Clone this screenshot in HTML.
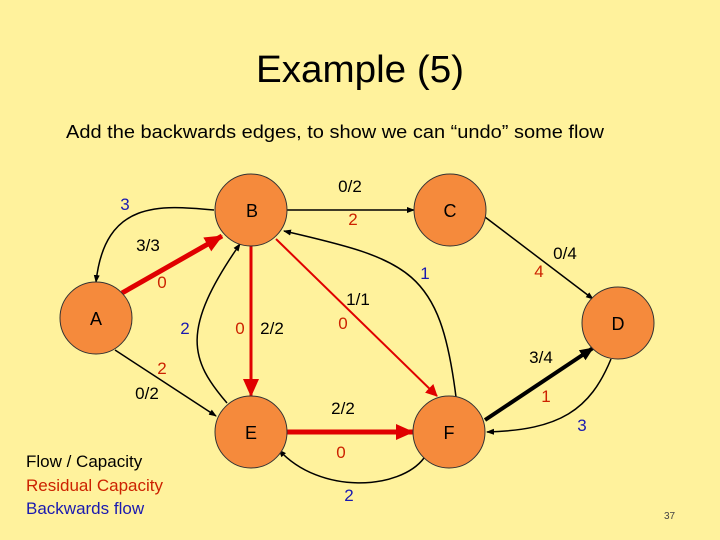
<!DOCTYPE html>
<html><head><style>
html,body{margin:0;padding:0;background:#FFF29C;}
svg{display:block;}
text{font-family:"Liberation Sans",Arial,sans-serif;}
</style></head><body>
<svg width="720" height="540" viewBox="0 0 720 540" xmlns="http://www.w3.org/2000/svg">
<defs>
<marker id="ak" markerWidth="8" markerHeight="8" refX="7" refY="4" orient="auto" markerUnits="userSpaceOnUse"><path d="M0,1 L8,4 L0,7 z" fill="#000"/></marker>
<marker id="ar" markerWidth="12" markerHeight="12" refX="11" refY="6" orient="auto" markerUnits="userSpaceOnUse"><path d="M0,0 L12,6 L0,12 z" fill="#E00000"/></marker>
<marker id="ar2" markerWidth="18" markerHeight="18" refX="17" refY="9" orient="auto" markerUnits="userSpaceOnUse"><path d="M0,1 L18,9 L0,17 z" fill="#E00000"/></marker>
<marker id="ak2" markerWidth="14" markerHeight="14" refX="13" refY="7" orient="auto" markerUnits="userSpaceOnUse"><path d="M0,1 L14,7 L0,13 z" fill="#000"/></marker>
</defs>
<rect width="720" height="540" fill="#FFF29C"/>
<text x="360" y="82" font-size="38" text-anchor="middle" textLength="208" lengthAdjust="spacingAndGlyphs">Example (5)</text>
<text x="66" y="138" font-size="18" textLength="538" lengthAdjust="spacingAndGlyphs">Add the backwards edges, to show we can “undo” some flow</text>

<!-- edges -->
<line x1="286" y1="210" x2="414" y2="210" stroke="#000" stroke-width="1.5" marker-end="url(#ak)"/>
<path d="M214,210 C160,205 105,200 96,282" fill="none" stroke="#000" stroke-width="1.5" marker-end="url(#ak)"/>
<line x1="122" y1="293" x2="222" y2="236" stroke="#E00000" stroke-width="5" marker-end="url(#ar2)"/>
<line x1="251" y1="246" x2="251" y2="396" stroke="#E00000" stroke-width="3" marker-end="url(#ar2)"/>
<path d="M227,403 C190,360 180,330 240,244" fill="none" stroke="#000" stroke-width="1.5" marker-end="url(#ak)"/>
<line x1="276" y1="239" x2="437" y2="396" stroke="#E00000" stroke-width="2" marker-end="url(#ar)"/>
<path d="M456,397 C440,270 410,260 284,231" fill="none" stroke="#000" stroke-width="1.5" marker-end="url(#ak)"/>
<line x1="115" y1="350" x2="216" y2="416" stroke="#000" stroke-width="1.5" marker-end="url(#ak)"/>
<line x1="287" y1="432" x2="413" y2="432" stroke="#E00000" stroke-width="5" marker-end="url(#ar2)"/>
<path d="M424,458 C400,490 320,495 279,450" fill="none" stroke="#000" stroke-width="1.5" marker-end="url(#ak)"/>
<line x1="485" y1="217" x2="593" y2="299" stroke="#000" stroke-width="1.5" marker-end="url(#ak)"/>
<line x1="485" y1="420" x2="593" y2="348" stroke="#000" stroke-width="4" marker-end="url(#ak2)"/>
<path d="M611,359 C590,410 560,430 487,432" fill="none" stroke="#000" stroke-width="1.5" marker-end="url(#ak)"/>

<!-- nodes -->
<g fill="#F58A3C" stroke="#333" stroke-width="1">
<circle cx="251" cy="210" r="36"/>
<circle cx="450" cy="210" r="36"/>
<circle cx="96" cy="318" r="36"/>
<circle cx="618" cy="323" r="36"/>
<circle cx="251" cy="432" r="36"/>
<circle cx="449" cy="432" r="36"/>
</g>
<g font-size="18" text-anchor="middle">
<text x="252" y="217">B</text>
<text x="450" y="217">C</text>
<text x="96" y="325">A</text>
<text x="618" y="330">D</text>
<text x="251" y="439">E</text>
<text x="449" y="439">F</text>
</g>

<!-- labels -->
<g font-size="17" text-anchor="middle">
<text x="350" y="192">0/2</text>
<text x="148" y="251">3/3</text>
<text x="358" y="305">1/1</text>
<text x="272" y="334">2/2</text>
<text x="147" y="399">0/2</text>
<text x="343" y="414">2/2</text>
<text x="565" y="259">0/4</text>
<text x="541" y="363">3/4</text>
</g>
<g font-size="17" text-anchor="middle" fill="#CC2200">
<text x="353" y="225">2</text>
<text x="162" y="288">0</text>
<text x="343" y="329">0</text>
<text x="240" y="334">0</text>
<text x="162" y="374">2</text>
<text x="341" y="458">0</text>
<text x="539" y="277">4</text>
<text x="546" y="402">1</text>
</g>
<g font-size="17" text-anchor="middle" fill="#1A1AB0">
<text x="125" y="210">3</text>
<text x="425" y="279">1</text>
<text x="185" y="334">2</text>
<text x="349" y="501">2</text>
<text x="582" y="431">3</text>
</g>

<g font-size="17">
<text x="26" y="467">Flow / Capacity</text>
<text x="26" y="491" fill="#CC2200">Residual Capacity</text>
<text x="26" y="514" fill="#1A1AB0">Backwards flow</text>
</g>
<text x="664" y="519" font-size="10" fill="#444">37</text>
</svg>
</body></html>
